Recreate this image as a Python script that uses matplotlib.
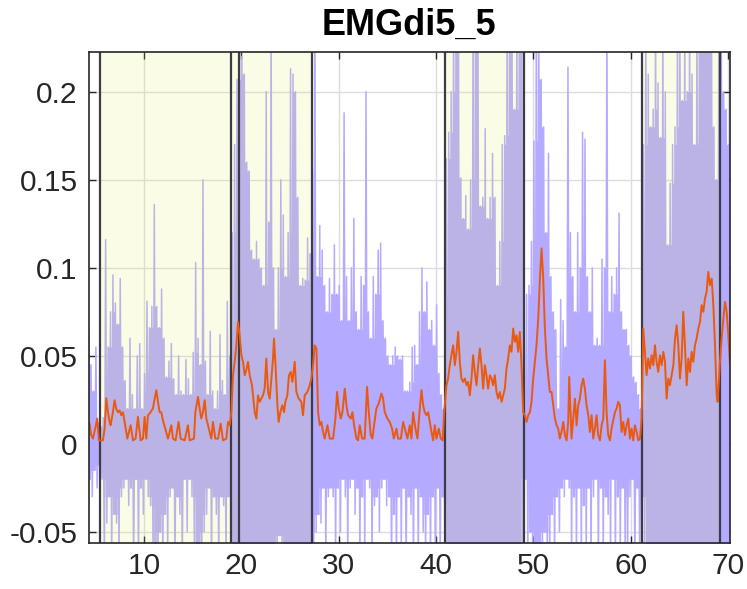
import numpy as np
import matplotlib
matplotlib.use('Agg')
import matplotlib.pyplot as plt

plt.rcParams['font.family'] = ['Liberation Sans', 'DejaVu Sans']

# ---------------- data ----------------
title = 'EMGdi5_5'
xticks = [10, 20, 30, 40, 50, 60, 70]
yticks = [-0.05, 0, 0.05, 0.1, 0.15, 0.2]
ytick_labels = ['-0.05', '0', '0.05', '0.1', '0.15', '0.2']
xlim = (4.35, 70.2)
ylim = (-0.056, 0.2227)

# phase boundaries (s)
boundaries = [5.45, 18.91, 19.74, 27.27, 40.95, 49.07, 61.2, 69.19]
shaded = [(5.45, 18.91), (18.91, 27.27), (40.95, 49.07), (61.2, 69.19)]

# raw EMG: upper / lower excursion per 0.25 s bin, first bin centre given
seg0_start = 4.375
up0 = [0.066, 0.045, 0.030, 0.055, 0.012]
lo0 = [-0.020, -0.030, -0.015, -0.025, -0.012]

segA_start = 5.625
upA = [0.010, 0.015, 0.116, 0.055, 0.075, 0.096, 0.080, 0.068, 0.094, 0.055,
       0.036, 0.020, 0.060, 0.028, 0.020, 0.050, 0.057, 0.020, 0.040, 0.081,
       0.066, 0.078, 0.136, 0.078, 0.066, 0.088, 0.060, 0.038, 0.047, 0.057,
       0.037, 0.028, 0.050, 0.030, 0.028, 0.048, 0.037, 0.028, 0.052, 0.103,
       0.060, 0.045, 0.150, 0.047, 0.028, 0.064, 0.030, 0.020, 0.030, 0.062,
       0.036, 0.028, 0.081, 0.050]
loA = [-0.020, -0.070, -0.045, -0.030, -0.070, -0.040, -0.045, -0.070, -0.030, -0.025,
       -0.020, -0.035, -0.025, -0.070, -0.020, -0.070, -0.025, -0.040, -0.020, -0.030,
       -0.035, -0.070, -0.060, -0.070, -0.050, -0.070, -0.040, -0.060, -0.030, -0.025,
       -0.070, -0.030, -0.040, -0.070, -0.020, -0.050, -0.020, -0.030, -0.070, -0.060,
       -0.070, -0.070, -0.050, -0.040, -0.025, -0.070, -0.030, -0.040, -0.070, -0.030,
       -0.035, -0.070, -0.030, -0.070]

segB_start = 19.125
upB = [0.120, 0.170, 0.207, 0.250, 0.220, 0.210, 0.160, 0.155, 0.110, 0.105,
       0.115, 0.105, 0.100, 0.090, 0.200, 0.126, 0.250, 0.100, 0.065, 0.100,
       0.150, 0.130, 0.095, 0.120, 0.213, 0.210, 0.200, 0.140, 0.090, 0.094,
       0.093, 0.117, 0.108]
loB = [-0.070, -0.070, -0.070, -0.070, -0.070, -0.070, -0.070, -0.070, -0.070, -0.070,
       -0.070, -0.070, -0.070, -0.070, -0.070, -0.070, -0.070, -0.070, -0.070, -0.052,
       -0.058, -0.070, -0.070, -0.070, -0.070, -0.070, -0.070, -0.070, -0.070, -0.070,
       -0.070, -0.070, -0.070]

segC_start = 27.375
upC = [0.155, 0.250, 0.095, 0.124, 0.110, 0.090, 0.075, 0.094, 0.085, 0.113,
       0.085, 0.090, 0.070, 0.188, 0.095, 0.070, 0.100, 0.128, 0.075, 0.065,
       0.095, 0.090, 0.200, 0.075, 0.060, 0.095, 0.085, 0.110, 0.114, 0.070,
       0.060, 0.050, 0.045, 0.050, 0.055, 0.050, 0.048, 0.050, 0.030, 0.030,
       0.035, 0.055, 0.056, 0.045, 0.075, 0.100, 0.075, 0.092, 0.065, 0.070,
       0.056, 0.079, 0.040, 0.028, 0.020]
loC = [-0.070, -0.050, -0.040, -0.045, -0.025, -0.070, -0.030, -0.025, -0.030, -0.070,
       -0.025, -0.050, -0.020, -0.030, -0.070, -0.025, -0.020, -0.040, -0.025, -0.070,
       -0.030, -0.070, -0.020, -0.025, -0.070, -0.035, -0.030, -0.050, -0.025, -0.020,
       -0.035, -0.030, -0.070, -0.040, -0.070, -0.030, -0.060, -0.025, -0.070, -0.030,
       -0.040, -0.070, -0.025, -0.070, -0.030, -0.050, -0.070, -0.040, -0.070, -0.030,
       -0.070, -0.025, -0.070, -0.030, -0.070]

segD_start = 41.125
upD = [0.162, 0.177, 0.200, 0.250, 0.250, 0.250, 0.151, 0.128, 0.141, 0.122,
       0.150, 0.250, 0.250, 0.250, 0.135, 0.140, 0.179, 0.128, 0.140, 0.165,
       0.140, 0.090, 0.115, 0.170, 0.175, 0.250, 0.250, 0.250, 0.190, 0.250,
       0.250, 0.250]
loD = [-0.070, -0.070, -0.070, -0.070, -0.070, -0.070, -0.070, -0.070, -0.070, -0.070,
       -0.070, -0.070, -0.070, -0.070, -0.070, -0.070, -0.070, -0.070, -0.070, -0.070,
       -0.070, -0.070, -0.070, -0.070, -0.070, -0.070, -0.070, -0.070, -0.070, -0.070,
       -0.070, -0.070]

segE_start = 49.125
upE = [0.020, 0.085, 0.090, 0.115, 0.172, 0.250, 0.250, 0.207, 0.180, 0.120,
       0.165, 0.095, 0.075, 0.065, 0.020, 0.082, 0.070, 0.055, 0.214, 0.120,
       0.095, 0.075, 0.120, 0.100, 0.177, 0.173, 0.095, 0.075, 0.100, 0.056,
       0.060, 0.056, 0.105, 0.100, 0.250, 0.075, 0.095, 0.085, 0.100, 0.131,
       0.075, 0.065, 0.065, 0.056, 0.050, 0.038, 0.035, 0.028, 0.020]
loE = [-0.020, -0.070, -0.050, -0.070, -0.060, -0.070, -0.070, -0.070, -0.050, -0.070,
       -0.070, -0.040, -0.070, -0.030, -0.050, -0.025, -0.030, -0.020, -0.025, -0.070,
       -0.030, -0.070, -0.025, -0.070, -0.035, -0.070, -0.025, -0.070, -0.030, -0.020,
       -0.070, -0.025, -0.070, -0.030, -0.040, -0.070, -0.020, -0.070, -0.030, -0.070,
       -0.025, -0.060, -0.070, -0.030, -0.020, -0.070, -0.025, -0.070, -0.030]

segF_start = 61.375
upF = [0.170, 0.250, 0.210, 0.180, 0.190, 0.250, 0.205, 0.174, 0.250, 0.200,
       0.113, 0.148, 0.170, 0.180, 0.250, 0.250, 0.195, 0.250, 0.200, 0.250,
       0.210, 0.170, 0.250, 0.250, 0.250, 0.250, 0.250, 0.250, 0.250, 0.180,
       0.150, 0.250]
loF = [-0.070, -0.070, -0.070, -0.070, -0.070, -0.070, -0.070, -0.070, -0.070, -0.070,
       -0.070, -0.070, -0.070, -0.070, -0.070, -0.070, -0.070, -0.070, -0.070, -0.070,
       -0.070, -0.070, -0.070, -0.070, -0.070, -0.070, -0.070, -0.070, -0.070, -0.070,
       -0.070, -0.070]

segG_start = 69.375
upG = [0.250, 0.200, 0.190, 0.170]
loG = [-0.070, -0.070, -0.070, -0.070]

# smoothed envelope (orange)
env_t = [4.24, 4.41, 4.58, 4.76, 4.99, 5.20, 5.37, 5.78, 5.96, 6.13, 6.30, 6.47, 6.57,
         6.81, 6.98, 7.15, 7.33, 7.50, 7.67, 7.84, 8.01, 8.29, 8.46, 8.63, 8.87, 9.14,
         9.38, 9.66, 9.90, 10.07, 10.24, 10.41, 10.58, 10.92, 11.10, 11.27, 11.44, 11.61,
         11.78, 11.95, 12.19, 12.47, 12.81, 12.98, 13.25, 13.56, 13.77, 14.18, 14.52,
         14.69, 15.14, 15.28, 15.55, 15.72, 15.89, 16.06, 16.24, 16.41, 16.75, 16.92,
         17.09, 17.33, 17.61, 17.88, 18.12, 18.46, 18.64, 18.81, 18.98, 19.15, 19.32,
         19.49, 19.66, 19.83, 20.01, 20.18, 20.35, 20.52,
         20.69, 20.86, 21.10, 21.38, 21.55, 21.72, 21.89, 22.06, 22.23, 22.40, 22.57,
         22.75, 22.92, 23.09, 23.26, 23.36, 23.50, 23.71, 23.84, 24.01, 24.22, 24.39,
         24.53, 24.73, 24.90, 25.08, 25.25, 25.49, 25.66, 25.90, 26.17, 26.34, 26.52,
         26.79, 27.03, 27.20, 27.37, 27.54, 27.72, 27.89, 28.06, 28.23, 28.40, 28.57,
         28.85, 29.09, 29.43, 29.67, 29.84, 30.01, 30.22, 30.39, 30.63, 30.80, 30.97,
         31.25, 31.42, 31.59, 31.83, 32.00, 32.17, 32.41, 32.68, 32.92, 33.10, 33.30,
         33.47, 33.64, 33.88, 34.12, 34.40, 34.57, 34.74, 35.01, 35.25, 35.49, 35.67,
         35.94, 36.11, 36.39, 36.63, 36.80, 37.07,
         37.31, 37.48, 37.65, 37.89, 38.10, 38.34, 38.51, 38.68, 38.85, 39.02, 39.20,
         39.37, 39.54, 39.71, 39.88, 40.05, 40.29, 40.50, 40.70, 40.84, 41.08, 41.25,
         41.42, 41.59, 41.77, 41.94, 42.11, 42.28, 42.45, 42.62, 42.79, 42.97, 43.14,
         43.31, 43.48, 43.65, 43.82, 43.99, 44.17, 44.34, 44.51, 44.68, 44.85, 45.02,
         45.19, 45.36, 45.54, 45.71, 45.88, 46.05, 46.22, 46.39, 46.56, 46.74, 46.91,
         47.08, 47.25, 47.42, 47.59, 47.76, 47.94, 48.11, 48.28, 48.45, 48.62, 48.79,
         48.96, 49.13, 49.31, 49.48, 49.65, 49.82, 49.99, 50.16, 50.33, 50.51, 50.68,
         50.85, 51.02, 51.19, 51.36, 51.53, 51.70, 51.88, 52.05, 52.22, 52.39, 52.56,
         52.73, 52.90, 53.08, 53.25, 53.42, 53.59, 53.69,
         53.93, 54.10, 54.28, 54.45, 54.62, 54.79, 54.96, 55.13, 55.30, 55.47, 55.65,
         55.82, 55.99, 56.16, 56.33, 56.50, 56.67, 56.85, 57.02, 57.19, 57.36, 57.53,
         57.70, 57.87, 58.04, 58.39, 58.56, 58.73, 58.90, 59.07, 59.24, 59.42, 59.59,
         59.76, 59.93, 60.10, 60.27, 60.44, 60.62, 60.79, 60.96, 61.13, 61.30, 61.47,
         61.64, 61.81, 61.99, 62.16, 62.33, 62.50, 62.67, 62.84, 63.01, 63.19, 63.36,
         63.53, 63.70, 63.87, 64.04, 64.21, 64.39, 64.56, 64.73, 64.90, 65.07, 65.24,
         65.41, 65.58, 65.76, 65.93, 66.10, 66.27, 66.44, 66.61, 66.78, 66.96, 67.13,
         67.30, 67.47, 67.64, 67.81, 67.98, 68.15, 68.33, 68.50, 68.67, 68.84, 68.94,
         69.18, 69.35, 69.53, 69.70, 69.87, 70.04, 70.21]
env_v = [0.0125, 0.0115, 0.0050, 0.0030, 0.0087, 0.0144, 0.0020, 0.0020, 0.0087, 0.0260, 0.0180, 0.0125, 0.0106,
         0.0180, 0.0248, 0.0201, 0.0180, 0.0190, 0.0163, 0.0180, 0.0125, 0.0030, 0.0068, 0.0106, 0.0020, 0.0030,
         0.0153, 0.0020, 0.0030, 0.0153, 0.0030, 0.0163, 0.0172, 0.0201, 0.0257, 0.0305, 0.0239, 0.0180,
         0.0180, 0.0134, 0.0087, 0.0030, 0.0106, 0.0030, 0.0020, 0.0125, 0.0030, 0.0020, 0.0106,
         0.0020, 0.0030, 0.0180, 0.0267, 0.0201, 0.0144, 0.0180, 0.0248, 0.0144, 0.0068, 0.0030,
         0.0125, 0.0030, 0.0030, 0.0115, 0.0020, 0.0030, 0.0125, 0.0106, 0.0180, 0.0390, 0.0466,
         0.0560, 0.0693, 0.0617, 0.0504, 0.0466, 0.0390, 0.0420,
         0.0466, 0.0390, 0.0333, 0.0180, 0.0144, 0.0276, 0.0239, 0.0257, 0.0276, 0.0314, 0.0485,
         0.0295, 0.0257, 0.0371, 0.0485, 0.0598, 0.0466, 0.0220, 0.0125, 0.0180, 0.0220, 0.0180,
         0.0239, 0.0276, 0.0390, 0.0409, 0.0352, 0.0466, 0.0295, 0.0257, 0.0239, 0.0163, 0.0276,
         0.0295, 0.0333, 0.0371, 0.0447, 0.0560, 0.0542, 0.0180, 0.0106, 0.0125, 0.0068, 0.0030,
         0.0106, 0.0030, 0.0030, 0.0144, 0.0295, 0.0201, 0.0144, 0.0180, 0.0314, 0.0220, 0.0163,
         0.0144, 0.0180, 0.0106, 0.0030, 0.0020, 0.0106, 0.0030, 0.0030, 0.0324, 0.0180, 0.0050,
         0.0030, 0.0106, 0.0201, 0.0230, 0.0286, 0.0257, 0.0180, 0.0144, 0.0125, 0.0087, 0.0030,
         0.0087, 0.0030, 0.0030, 0.0125, 0.0087, 0.0030,
         0.0106, 0.0030, 0.0180, 0.0087, 0.0030, 0.0201, 0.0305, 0.0220, 0.0180, 0.0163, 0.0180,
         0.0125, 0.0068, 0.0020, 0.0106, 0.0030, 0.0087, 0.0030, 0.0020, 0.0180, 0.0333, 0.0371,
         0.0447, 0.0504, 0.0560, 0.0447, 0.0523, 0.0636, 0.0466, 0.0371, 0.0352, 0.0371, 0.0333,
         0.0352, 0.0276, 0.0371, 0.0504, 0.0409, 0.0333, 0.0447, 0.0542, 0.0447, 0.0314, 0.0447,
         0.0390, 0.0314, 0.0390, 0.0371, 0.0333, 0.0390, 0.0295, 0.0257, 0.0295, 0.0239, 0.0276,
         0.0314, 0.0428, 0.0485, 0.0560, 0.0523, 0.0655, 0.0579, 0.0617, 0.0523, 0.0636, 0.0447,
         0.0180, 0.0163, 0.0125, 0.0163, 0.0180, 0.0239, 0.0371, 0.0466, 0.0560, 0.0712, 0.0939,
         0.1110, 0.0939, 0.0655, 0.0485, 0.0390, 0.0295, 0.0295, 0.0220, 0.0144, 0.0106, 0.0087,
         0.0030, 0.0068, 0.0125, 0.0050, 0.0020, 0.0125, 0.0380,
         0.0030, 0.0144, 0.0257, 0.0106, 0.0220, 0.0257, 0.0333, 0.0371, 0.0314, 0.0220, 0.0163,
         0.0068, 0.0163, 0.0030, 0.0087, 0.0163, 0.0050, 0.0020, 0.0106, 0.0144, 0.0475, 0.0180,
         0.0050, 0.0020, 0.0087, 0.0180, 0.0201, 0.0239, 0.0220, 0.0068, 0.0125, 0.0050, 0.0106,
         0.0144, 0.0030, 0.0087, 0.0020, 0.0106, 0.0068, 0.0020, 0.0030, 0.0144, 0.0655, 0.0523,
         0.0390, 0.0485, 0.0428, 0.0504, 0.0447, 0.0560, 0.0466, 0.0409, 0.0504, 0.0447, 0.0523,
         0.0466, 0.0257, 0.0371, 0.0333, 0.0390, 0.0447, 0.0598, 0.0674, 0.0560, 0.0371, 0.0485,
         0.0750, 0.0560, 0.0333, 0.0485, 0.0409, 0.0523, 0.0466, 0.0560, 0.0598, 0.0655, 0.0693,
         0.0788, 0.0750, 0.0826, 0.0863, 0.0977, 0.0901, 0.0939, 0.0788, 0.0560, 0.0276, 0.0239,
         0.0466, 0.0598, 0.0712, 0.0807, 0.0750, 0.0617, 0.0447]

# ---------------- figure ----------------
fig = plt.figure(figsize=(7.47, 5.89), dpi=100)
ax = fig.add_axes([0.1191, 0.0789, 0.858, 0.8333])

segments = [(seg0_start, up0, lo0), (segA_start, upA, loA), (segB_start, upB, loB),
            (segC_start, upC, loC), (segD_start, upD, loD), (segE_start, upE, loE),
            (segF_start, upF, loF), (segG_start, upG, loG)]
T, U, L = [], [], []
for start, up, lo in segments:
    T += list(start + 0.25 * np.arange(len(up)))
    U += list(up)
    L += list(lo)
T = np.array(T); U = np.array(U); L = np.array(L)

# dense core of the raw trace: region covered by every neighbouring excursion
Up = np.concatenate([[U[0]], U, [U[-1]]])
Lp = np.concatenate([[L[0]], L, [L[-1]]])
core_hi = np.minimum(np.minimum(Up[:-2], Up[1:-1]), Up[2:])
core_lo = np.maximum(np.maximum(Lp[:-2], Lp[1:-1]), Lp[2:])
purple = '#B4AAFF'
ax.fill_between(T, core_lo, core_hi, step='mid', color=purple, lw=0, zorder=2)

xs = np.empty(2 * len(T)); ys = np.empty(2 * len(T))
xs[0::2] = T - 0.0625; xs[1::2] = T + 0.0625
ys[0::2] = U; ys[1::2] = L
ax.plot(xs, ys, color=purple, lw=1.1, zorder=2)

for a, b in shaded:
    ax.axvspan(a, b, color=(0.91, 0.94, 0.30), alpha=0.14, lw=0, zorder=3)

for bx in boundaries:
    ax.axvline(bx, color='#3C3C46', lw=1.6, zorder=4)

ax.plot(env_t, env_v, color='#E95A10', lw=1.4, zorder=5)

ax.set_xlim(*xlim)
ax.set_ylim(*ylim)
ax.set_xticks(xticks)
ax.set_yticks(yticks)
ax.set_yticklabels(ytick_labels)
ax.grid(True, color='#DCDCDC', lw=1.0)
ax.set_axisbelow(True)
ax.tick_params(direction='in', length=5, width=1.0, top=True, right=True,
               labelsize=21.5, colors='#262626', pad=8)
ax.tick_params(axis='x', pad=7)
for sp in ax.spines.values():
    sp.set_color('#262626')
    sp.set_linewidth(1.2)
    sp.set_zorder(6)
ax.set_title(title, fontsize=26, fontweight='bold', pad=12, color='black')

fig.savefig('out.png', dpi=100)
